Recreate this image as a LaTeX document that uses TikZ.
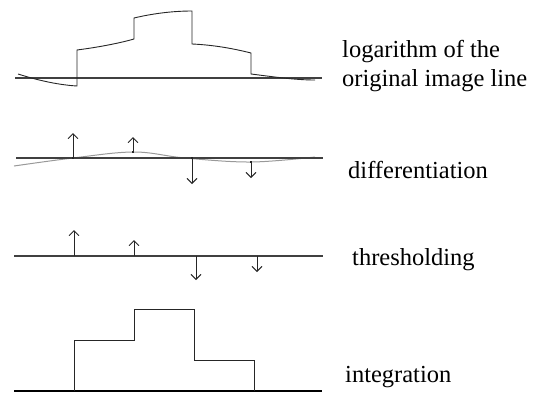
\documentclass[tikz,border=0pt]{standalone}
\usepackage{fontspec}
\setmainfont{Liberation Serif}
\usetikzlibrary{arrows.meta}
\begin{document}
\begin{tikzpicture}[x=1pt,y=-1pt,
  axis/.style={line width=1.2pt,draw=black!75},
  sig/.style={line width=0.9pt,draw=black!85},
  soft/.style={line width=1pt,draw=black!40},
  spike/.style={line width=1pt,draw=black!85,-{Straight Barb[length=5pt,width=10pt,line width=0.9pt]}},
  dot/.style={fill=black!85,inner sep=0pt,minimum size=2.5pt,shape=rectangle},
  lbl/.style={anchor=base west,inner sep=0pt,font=\fontsize{24.5}{29}\selectfont}]
\useasboundingbox (0,0) rectangle (534,394);
% panel 1: logarithm of the original image line
\draw[axis] (15,78) -- (322,78);
\draw[sig] (18,74) .. controls (40,81) and (60,85) .. (77,86) -- (77,50)
  .. controls (100,47) and (120,43) .. (134,39) -- (134,18)
  .. controls (155,13) and (175,11) .. (192,11) -- (192,44)
  .. controls (215,45) and (235,49) .. (251,53) -- (251,74)
  .. controls (275,77) and (295,80) .. (315,80);
\node[lbl] (l1a) at (342,57) {logarithm of the};
\node[lbl] (l1b) at (342,86) {original image line};
% panel 2: differentiation
\draw[soft] plot[smooth,tension=0.6] coordinates {(14,166) (73,158) (134,152) (185,158) (251,162) (315,157)};
\draw[axis] (16,158) -- (323,158);
\node[dot] (d1a) at (73,158) {}; \coordinate (d1b) at (73,133);
\node[dot] (d2a) at (133,152) {}; \coordinate (d2b) at (133,137);
\node[dot] (d3a) at (192,158) {}; \coordinate (d3b) at (192,184);
\node[dot] (d4a) at (251,162) {}; \coordinate (d4b) at (251,178);
\draw[spike] (d1a.center) -- (d1b);
\draw[spike] (d2a.center) -- (d2b);
\draw[spike] (d3a.center) -- (d3b);
\draw[spike] (d4a.center) -- (d4b);
\node[lbl] (l2) at (348,178) {differentiation};
% panel 3: thresholding
\draw[axis] (14,256) -- (323,256);
\coordinate (t1a) at (74,256); \coordinate (t1b) at (74,230);
\coordinate (t2a) at (134,256); \coordinate (t2b) at (134,240);
\coordinate (t3a) at (196,256); \coordinate (t3b) at (196,280);
\coordinate (t4a) at (257,256); \coordinate (t4b) at (257,272);
\draw[spike] (t1a) -- (t1b);
\draw[spike] (t2a) -- (t2b);
\draw[spike] (t3a) -- (t3b);
\draw[spike] (t4a) -- (t4b);
\node[lbl] (l3) at (352,265) {thresholding};
% panel 4: integration
\draw[line width=1.4pt,black] (14,391) -- (322,391);
\draw[sig] (74,391) -- (74,340) -- (134,340) -- (134,309) -- (194,309) -- (194,360) -- (254,360) -- (254,391);
\node[lbl] (l4) at (345,382) {integration};
\end{tikzpicture}
\end{document}
